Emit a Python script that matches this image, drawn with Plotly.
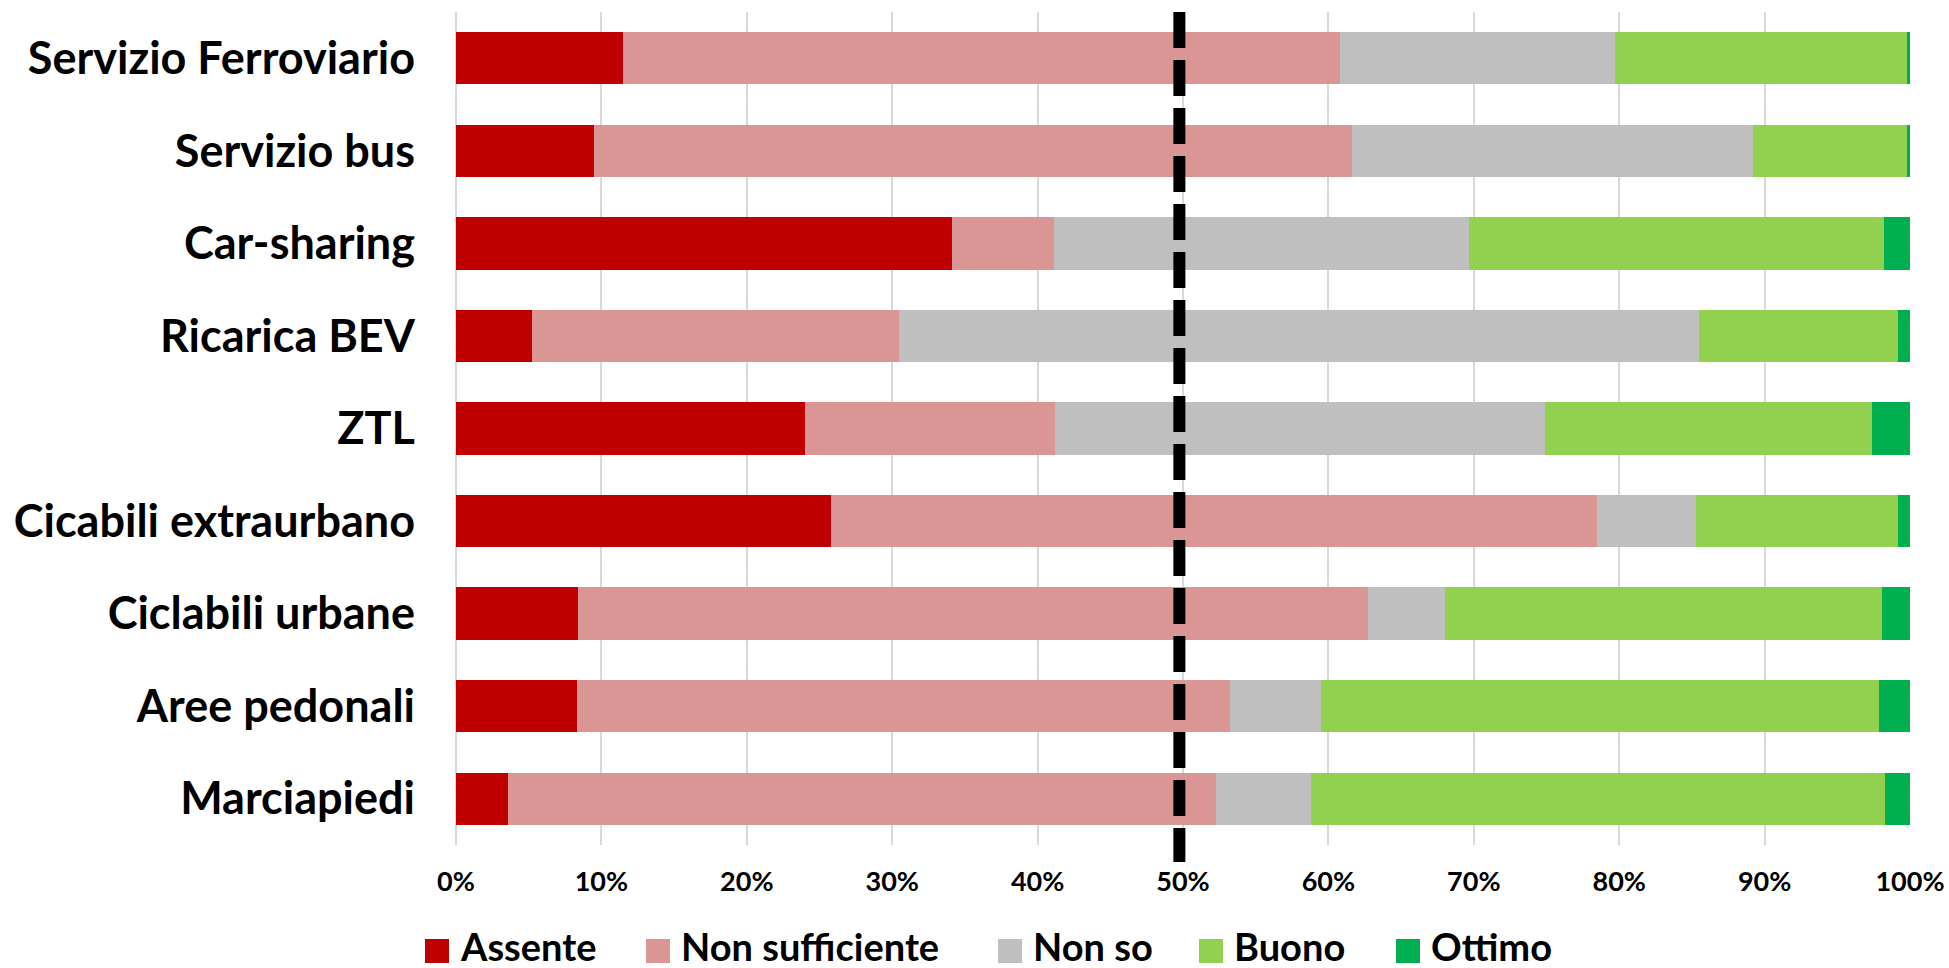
import plotly.graph_objects as go

categories = ["Servizio Ferroviario", "Servizio bus", "Car-sharing", "Ricarica BEV", "ZTL",
              "Cicabili extraurbano", "Ciclabili urbane", "Aree pedonali", "Marciapiedi"]
series_names = ["Assente", "Non sufficiente", "Non so", "Buono", "Ottimo"]
assente = [11.5, 9.5, 34.1, 5.2, 24.0, 25.8, 8.4, 8.3, 3.6]
non_sufficiente = [49.3, 52.1, 7.0, 25.3, 17.2, 52.7, 54.3, 44.9, 48.7]
non_so = [18.9, 27.6, 28.6, 55.0, 33.7, 6.8, 5.3, 6.3, 6.5]
buono = [20.1, 10.6, 28.5, 13.7, 22.5, 13.9, 30.1, 38.4, 39.5]
ottimo = [0.2, 0.2, 1.8, 0.8, 2.6, 0.8, 1.9, 2.1, 1.7]
tick_values = [0, 10, 20, 30, 40, 50, 60, 70, 80, 90, 100]
tick_labels = ["0%", "10%", "20%", "30%", "40%", "50%", "60%", "70%", "80%", "90%", "100%"]
reference_line = 49.75

colors = ["#C00000", "#DA9694", "#BFBFBF", "#92D050", "#00B050"]
values = [assente, non_sufficiente, non_so, buono, ottimo]

FONT = "Lato"
W, H = 1949, 968
L, R, T, B = 456, 39, 12, 123
pw, ph = W - L - R, H - T - B


def py(pix):
    """pixel row (from top of figure) -> paper y"""
    return (T + ph - pix) / ph


def px_(pix):
    """pixel column -> paper x"""
    return (pix - L) / pw


fig = go.Figure()
for name, vals, col in zip(series_names, values, colors):
    fig.add_trace(go.Bar(
        y=categories, x=vals, name=name, orientation="h",
        marker=dict(color=col, line=dict(width=0)),
        showlegend=False, hoverinfo="x+y+name",
    ))

# dashed reference line
fig.add_shape(type="line", xref="x", yref="paper", x0=reference_line, x1=reference_line,
              y0=1.0, y1=py(862),
              line=dict(color="black", width=12, dash="36px,12px"), layer="above")

# manual legend (large square keys like the reference)
legend_px = [425, 646, 998, 1199, 1396]  # left edge of each key, in pixels
sq = 24
ycen = 951
for name, col, lx in zip(series_names, colors, legend_px):
    fig.add_shape(type="rect", xref="paper", yref="paper",
                  x0=px_(lx), x1=px_(lx + sq),
                  y0=py(ycen - sq / 2), y1=py(ycen + sq / 2),
                  fillcolor=col, line=dict(width=0))
    fig.add_annotation(xref="paper", yref="paper", x=px_(lx + sq + 9),
                       y=py(ycen - 5), text="<b>%s</b>" % name, showarrow=False,
                       xanchor="left", yanchor="middle",
                       font=dict(family=FONT, size=38, color="black"))

fig.update_layout(
    width=W, height=H,
    margin=dict(l=L, r=R, t=T, b=B, autoexpand=False),
    barmode="stack", bargap=0.435,
    plot_bgcolor="white", paper_bgcolor="white",
    showlegend=False,
    font=dict(family=FONT, color="black"),
    xaxis=dict(range=[0, 100], tickvals=tick_values, ticktext=["<b>%s</b>" % t for t in tick_labels],
               showgrid=True, gridcolor="#D9D9D9", gridwidth=1.5,
               zeroline=True, zerolinecolor="#D9D9D9", zerolinewidth=1.5,
               showline=False, ticks="", tickfont=dict(family=FONT, size=27, color="black"),
               ticklabelstandoff=18, fixedrange=True, automargin=False),
    yaxis=dict(autorange="reversed", showgrid=False, zeroline=False, showline=False, ticks="",
               tickvals=categories, ticktext=["<b>%s</b>" % c for c in categories],
               tickfont=dict(family=FONT, size=45, color="black"),
               ticklabelstandoff=40, fixedrange=True, automargin=False),
)

fig.write_html("out.html", config={"displayModeBar": False},
               post_script="document.body.style.margin='0';document.body.style.overflow='hidden';")
